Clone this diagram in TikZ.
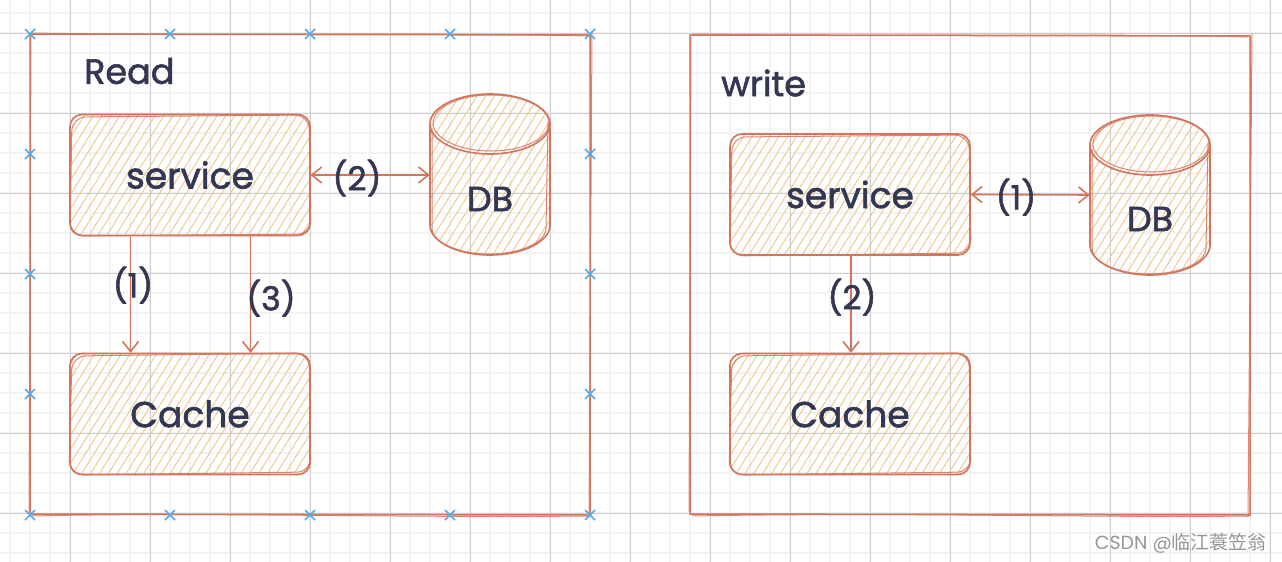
\documentclass[tikz,border=0pt]{standalone}
\usepackage{fontspec}
\setmainfont{Poppins}[FakeBold=1.6]
\newfontfamily\cjkfont{Noto Sans CJK SC}
\newfontfamily\wmfont{Poppins}
\usetikzlibrary{arrows.meta,patterns.meta}
\definecolor{strk}{RGB}{211,116,92}
\definecolor{hatch}{RGB}{240,198,140}
\definecolor{ink}{RGB}{52,55,82}
\definecolor{xblue}{RGB}{85,170,235}
\definecolor{gminor}{RGB}{243,243,243}
\definecolor{gmajor}{RGB}{205,205,205}
\definecolor{wm}{RGB}{150,150,150}
\tikzset{
  minorline/.style={draw=gminor,line width=1.6pt},
  majorline/.style={draw=gmajor,line width=0.9pt},
  frame/.style={draw=strk,line width=1.5pt},
  sketch/.style={draw=strk,line width=1.0pt,opacity=0.85},
  hatchfill/.style={pattern={Lines[angle=58,distance=7.5pt,line width=0.9pt]},pattern color=hatch},
  box/.style={draw=strk,line width=1.6pt,rounded corners=12pt,hatchfill,
    minimum width=240pt,minimum height=121pt,inner sep=0pt,
    font=\fontsize{36}{40}\selectfont,text=ink},
  shapebox/.style={minimum width=120pt,minimum height=160pt,inner sep=0pt},
  lbl/.style={font=\fontsize{33}{38}\selectfont,text=ink,inner sep=0pt},
  dblbl/.style={font=\fontsize{35}{38}\selectfont,text=ink,inner sep=0pt},
  title/.style={font=\fontsize{35}{40}\selectfont,text=ink,inner sep=0pt,anchor=west},
  conn/.style={draw=strk,line width=1.6pt},
  xmark/.style={draw=xblue,line width=1.5pt},
}
\begin{document}
\begin{tikzpicture}[x=1pt,y=-1pt]
\useasboundingbox (0,0) rectangle (1282,562);
\fill[white] (0,0) rectangle (1282,562);
% grid
\foreach \x in {10,30,...,1282} \draw[minorline] (\x,0) -- (\x,562);
\foreach \y in {13,33,...,562} \draw[minorline] (0,\y) -- (1282,\y);
\foreach \x in {70,150,...,1282} \draw[majorline] (\x,0) -- (\x,562);
\foreach \y in {33,113,...,562} \draw[majorline] (0,\y) -- (1282,\y);

% ===== Read frame =====
\draw[frame] (30,34) -- (590,35) -- (590,515) -- (30,514) -- cycle;
\draw[sketch] (32,33) .. controls (200,36) and (400,32) .. (588,36);
\draw[sketch] (31,36) -- (29,512);
\draw[sketch] (592,33) -- (589,517);
\draw[sketch] (32,516) .. controls (200,512) and (400,518) .. (588,516);
\foreach \p in {(30,34),(170,34),(310,34),(450,34),(590,34),(30,154),(30,274),(30,394),(30,515),(170,515),(310,515),(450,515),(590,515),(590,154),(590,274),(590,394)}
  \draw[xmark] \p ++(-5,-5) -- ++(10,10) \p ++(-5,5) -- ++(10,-10);
\node[title] (rtitle) at (84,71) {Read};

\node[box] (rs) at (190,175) {service};
\draw[sketch,rounded corners=14pt] (72,117) -- (309,115) -- (311,234) -- (70,236) -- cycle;
\node[box] (rc) at (190,414) {Cache};
\draw[sketch,rounded corners=14pt] (72,356) -- (309,353) -- (311,472) -- (69,475) -- cycle;

% Read DB cylinder
\path[hatchfill] (430,124) -- (430,225) arc (180:0:60 and 30) -- (550,124) arc (0:-180:60 and 30) -- cycle;
\draw[draw=strk,line width=1.6pt] (490,124) ellipse (60 and 30);
\draw[draw=strk,line width=1.6pt] (430,124) -- (430,225) arc (180:0:60 and 30) -- (550,124);
\draw[sketch] (491,123) ellipse (58 and 28);
\draw[sketch] (432,128) -- (432,228) arc (180:0:57 and 26) -- (548,122);
\node[shapebox] (rdb) at (490,175) {};
\node[dblbl] (rdblbl) at (490,199) {DB};

% Read connectors
\draw[conn,{Straight Barb[length=10pt,width=16pt,line width=1.6pt]}-{Straight Barb[length=10pt,width=16pt,line width=1.6pt]}] (rs.east) -- (rdb.west);
\node[lbl] (r2) at (357,178) {(2)};
\draw[conn,-{Straight Barb[length=10pt,width=16pt,line width=1.6pt]}] (rs.south west) ++(61,0) coordinate (r1s) -- (r1s |- rc.north);
\node[lbl] (r1) at (133,285) {(1)};
\draw[conn,-{Straight Barb[length=10pt,width=16pt,line width=1.6pt]}] (rs.south west) ++(181,0) coordinate (r3s) -- (r3s |- rc.north);
\node[lbl] (r3) at (271,298) {(3)};

% ===== Write frame =====
\draw[frame] (690,35) -- (1250,36) -- (1250,515) -- (690,514) -- cycle;
\draw[sketch] (692,34) .. controls (900,37) and (1100,33) .. (1248,37);
\draw[sketch] (691,37) -- (689,512);
\draw[sketch] (1252,34) -- (1248,517);
\draw[sketch] (692,516) .. controls (900,512) and (1100,518) .. (1248,516);
\node[title] (wtitle) at (721,83) {write};

\node[box] (ws) at (850,194.5) {service};
\draw[sketch,rounded corners=14pt] (732,137) -- (969,135) -- (971,253) -- (730,256) -- cycle;
\node[box] (wc) at (850,414) {Cache};
\draw[sketch,rounded corners=14pt] (732,356) -- (969,353) -- (971,472) -- (729,475) -- cycle;

% Write DB cylinder
\path[hatchfill] (1090,145) -- (1090,245) arc (180:0:60 and 30) -- (1210,145) arc (0:-180:60 and 30) -- cycle;
\draw[draw=strk,line width=1.6pt] (1150,145) ellipse (60 and 30);
\draw[draw=strk,line width=1.6pt] (1090,145) -- (1090,245) arc (180:0:60 and 30) -- (1210,145);
\draw[sketch] (1151,144) ellipse (58 and 28);
\draw[sketch] (1092,149) -- (1092,248) arc (180:0:57 and 26) -- (1208,143);
\node[shapebox] (wdb) at (1150,195) {};
\node[dblbl] (wdblbl) at (1150,219) {DB};

\draw[conn,{Straight Barb[length=10pt,width=16pt,line width=1.6pt]}-{Straight Barb[length=10pt,width=16pt,line width=1.6pt]}] (ws.east) -- (wdb.west);
\node[lbl] (w1) at (1016,197) {(1)};
\draw[conn,-{Straight Barb[length=10pt,width=16pt,line width=1.6pt]}] (ws.south) ++(1,0) coordinate (w2s) -- (w2s |- wc.north);
\node[lbl] (w2) at (852,297) {(2)};

% watermark
\node[text=wm,font=\wmfont\fontsize{19}{22}\selectfont,anchor=east,inner sep=0pt] (wmark) at (1267,543) {CSDN @{\cjkfont 临江蓑笠翁}};
\end{tikzpicture}
\end{document}
